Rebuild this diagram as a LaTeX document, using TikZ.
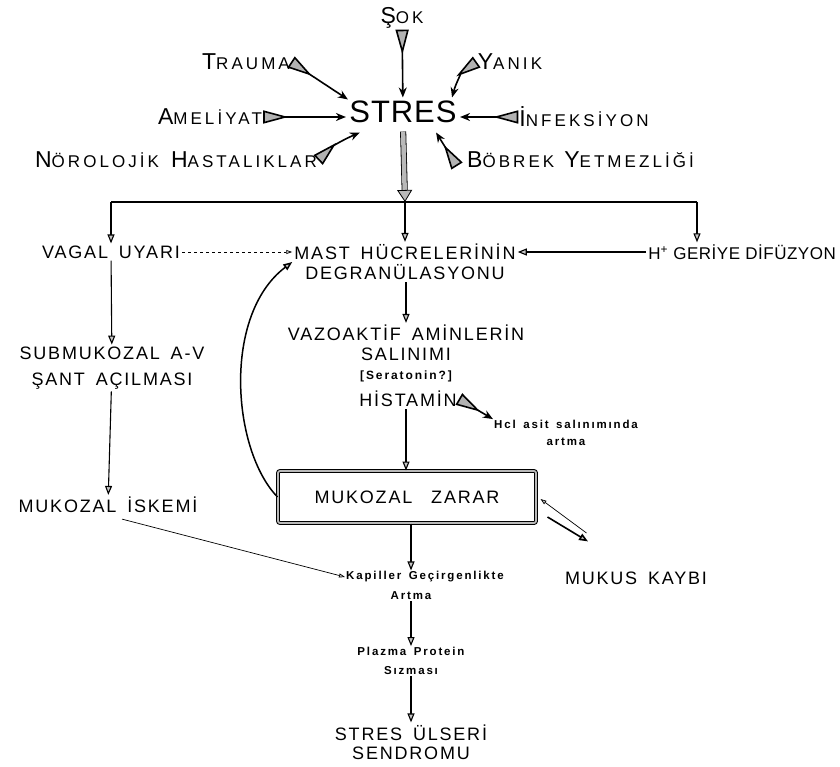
\documentclass[tikz,border=0pt]{standalone}
\usepackage{fontspec}
\setmainfont{Liberation Sans}[LetterSpace=10,WordSpace=1.6]
\newfontfamily\stresfont{Liberation Sans}[LetterSpace=3]
\newfontfamily\notefont{Liberation Sans}[LetterSpace=16,WordSpace=1.5]
\usepackage{tikz}
\usetikzlibrary{arrows.meta}

\newcommand{\sk}[2]{{\addfontfeatures{LetterSpace=18}\fontsize{23}{23}\selectfont #1\fontsize{17}{17}\selectfont #2}}

\begin{document}
\begin{tikzpicture}[x=1pt,y=-1pt,
  lbl/.style={font=\fontsize{18}{20}\selectfont, align=center, inner sep=2pt},
  note/.style={font=\notefont\bfseries\fontsize{11.5}{17}\selectfont, align=center, inner sep=1pt},
  flow/.style={line width=1.1pt, -{Triangle[length=9pt,width=7pt,fill=gray!45]}},
  feed/.style={line width=1.6pt, {Triangle[reversed,length=25pt,width=13pt,fill=gray!60]}-{Stealth[length=10pt,width=8pt,fill=gray!60]}},
  thinflow/.style={line width=0.7pt, -{Triangle[length=6pt,width=4pt,fill=gray!45]}}
  ]
\useasboundingbox (0,0) rectangle (840,767);

% stres ve nedenleri
\node (stres) at (403,112) {\stresfont\fontsize{31}{31}\selectfont STRES};
\node[inner sep=1pt] (sok) at (402,18) {\sk{Ş}{OK}};
\node[inner sep=1pt] (trauma) at (246,62) {\sk{T}{RAUMA}};
\node[inner sep=1pt] (yanik) at (510,62) {\sk{Y}{ANIK}};
\node[inner sep=1pt] (ameliyat) at (210,117) {\sk{A}{MELİYAT}};
\node[inner sep=1pt] (infeksiyon) at (584,117) {\sk{İ}{NFEKSİYON}};
\node[inner sep=1pt] (norolojik) at (176,160) {\sk{N}{ÖROLOJİK}\hspace{12pt}\sk{H}{ASTALIKLAR}};
\node[inner sep=1pt, anchor=west] (bobrek) at (466,160) {\sk{B}{ÖBREK}\hspace{10pt}\sk{Y}{ETMEZLİĞİ}};

\draw[feed] (sok) -- (stres);
\draw[feed] (trauma.east) -- ([shift={(2,2)}]stres.north west);
\draw[feed] (yanik.west) to[bend right=20] ([shift={(-8,0)}]stres.north east);
\draw[feed] (ameliyat.east) -- (ameliyat.east -| stres.west);
\draw[feed] (infeksiyon.west) -- (infeksiyon.west -| stres.east);
\draw[feed] (norolojik.east) to[bend left=10] ([shift={(14,6)}]stres.south west);
\draw[feed] ([shift={(-9,6)}]bobrek.west) -- ([shift={(-24,6)}]stres.south east);

% dallanma
\coordinate (split) at (405,202);
\coordinate (hin) at (697,202);
\draw[line width=0.8pt, double=gray!55, double distance=4.5pt, shorten <=5pt,
  -{Triangle[length=12pt,width=15pt,fill=gray!55]}] (stres.south) -- (split);

\node[lbl] (vagal) at (111,252) {VAGAL UYARI};
\node[lbl] (mast) at (405,262) {MAST HÜCRELERİNİN\\DEGRANÜLASYONU};
\node[lbl, font=\stresfont\fontsize{17}{20}\selectfont, anchor=east] (hplus) at (838,252) {H\textsuperscript{+} GERİYE DİFÜZYON};

\draw[line width=2pt] (split -| vagal) -- (hin);
\draw[flow] (split -| vagal) -- (vagal);
\draw[flow] (split) -- (split |- mast.north);
\draw[flow] (hin) -- (hin |- hplus.north);

\draw[thinflow, dashed] (vagal) -- (vagal -| mast.west);
\draw[flow] (hplus) -- (hplus -| mast.east);

% orta kol
\node[lbl] (vazo) at (406,343) {VAZOAKTİF AMİNLERİN\\SALINIMI};
\node[note, font=\notefont\bfseries\fontsize{12}{14}\selectfont] (sera) at (406,376) {[Seratonin?]};
\node[lbl] (histamin) at (408,399) {HİSTAMİN};
\node[note] (hcl) at (566,433) {Hcl asit salınımında\\artma};
\node[lbl, draw, line width=1pt, double=gray!55, double distance=1.8pt,
  rounded corners=2pt, minimum width=258pt, minimum height=52pt]
  (zarar) at (407,497) {MUKOZAL\hspace{8pt} ZARAR};

\draw[flow] (mast.south -| sera) -- (sera |- vazo.north);
\draw[flow] (histamin.south -| sera) -- (sera |- zarar.north);
\draw[feed] (histamin.east) -- (hcl.north west);
\draw[line width=1.5pt, -{Triangle[length=9pt,width=7pt,fill=gray!45]}]
  (zarar.west) .. controls (232,450) and (222,315) .. (mast.west);

% sol kol
\node[lbl, font=\fontsize{18}{26}\selectfont] (submuk) at (112,368) {SUBMUKOZAL A-V\\ŞANT AÇILMASI};
\node[lbl] (iskemi) at (108,505) {MUKOZAL İSKEMİ};
\draw[flow] (vagal) -- (submuk);
\draw[flow] (submuk) -- (iskemi);

% alt kol
\node[note] (kapiller) at (425,577) {Kapiller Geçirgenlikte};
\node[note] (artma) at (411,596) {Artma};
\node[lbl] (mukus) at (636,578) {MUKUS KAYBI};
\node[note, font=\notefont\bfseries\fontsize{11.5}{19}\selectfont] (plazma) at (411,661) {Plazma Protein\\Sızması};
\node[lbl, font=\fontsize{18}{19}\selectfont] (ulser) at (411,742) {STRES ÜLSERİ\\SENDROMU};

\draw[thinflow] ([shift={(14,4)}]iskemi.south) -- (kapiller.west);
\draw[flow] (zarar.south -| artma) -- (artma |- kapiller.north);
\draw[flow] (artma) -- (plazma);
\draw[flow] (plazma) -- (ulser);
\draw[thinflow] ([shift={(50,36)}]zarar.east) -- ([shift={(4,2)}]zarar.east);
\draw[flow, line width=1.6pt] ([shift={(11,20)}]zarar.east) -- ([shift={(-48,-28)}]mukus.north);
\end{tikzpicture}
\end{document}
